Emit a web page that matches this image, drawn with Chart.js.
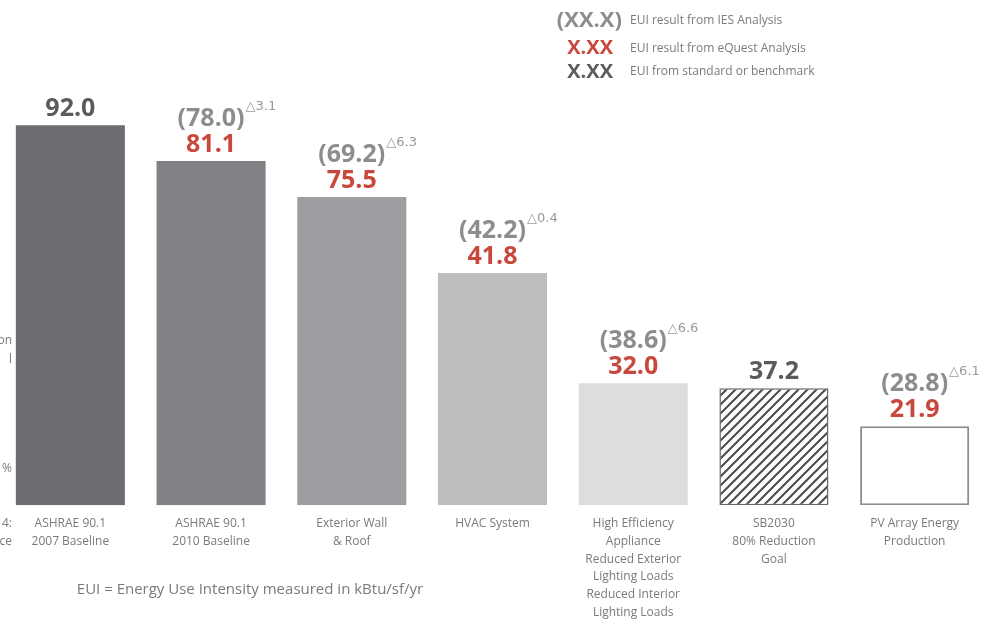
<!DOCTYPE html>
<html>
<head>
<meta charset="utf-8">
<script src="https://cdn.jsdelivr.net/npm/chart.js@4.4.1/dist/chart.umd.min.js"></script>
<style>
  html, body { margin: 0; padding: 0; background: #fff; }
  #wrap { width: 998px; height: 627px; position: relative; }
</style>
</head>
<body>
<div id="wrap"><canvas id="myChart"></canvas></div>
<script>
// categories (x axis, multi-line)
const categories = [
  ['ASHRAE 90.1', '2007 Baseline'],
  ['ASHRAE 90.1', '2010 Baseline'],
  ['Exterior Wall', '& Roof'],
  ['HVAC System'],
  ['High Efficiency', 'Appliance', 'Reduced Exterior', 'Lighting Loads', 'Reduced Interior', 'Lighting Loads'],
  ['SB2030', '80% Reduction', 'Goal'],
  ['PV Array Energy', 'Production']
];
// drawn bar heights (the picture is not to scale), in EUI units relative to the 92.0 bar
const barHeights = [92.0, 83.3, 74.6, 56.2, 29.5, 28.3, 19.1];
// value printed right above each bar
const mainValues = ['92.0', '81.1', '75.5', '41.8', '32.0', '37.2', '21.9'];
const mainSource = ['standard', 'eQuest', 'eQuest', 'eQuest', 'eQuest', 'standard', 'eQuest'];
// IES results (in brackets) and their delta to eQuest
const iesValues = [null, '78.0', '69.2', '42.2', '38.6', null, '28.8'];
const deltas = [null, '3.1', '6.3', '0.4', '6.6', null, '6.1'];

const barColors = ['#6d6c71', '#828186', '#9e9da2', '#bdbdbe', '#dcdddc', 'hatch', '#ffffff'];
const RED = '#c9483c', DARK = '#5b5b5f', GREY = '#8d8d8f', TXT = '#7a7a7a';

function hatch(){
  const c = document.createElement('canvas');
  c.width = 9; c.height = 9;
  const g = c.getContext('2d');
  g.fillStyle = '#fff';
  g.fillRect(0, 0, 9, 9);
  g.strokeStyle = '#4a4a4a';
  g.lineWidth = 2;
  g.beginPath();
  g.moveTo(-2, 11); g.lineTo(11, -2);
  g.moveTo(-2, 2); g.lineTo(2, -2);
  g.moveTo(7, 11); g.lineTo(11, 7);
  g.stroke();
  return g.createPattern(c, 'repeat');
}

const labelPlugin = {
  id: 'labels',
  afterDatasetsDraw(chart){
    const ctx = chart.ctx;
    const meta = chart.getDatasetMeta(0);
    ctx.save();
    ctx.textBaseline = 'alphabetic';
    meta.data.forEach((bar, i) => {
      const x = bar.x, top = bar.y;
      const base = top - 9;
      ctx.font = 'bold 25px "Open Sans"';
      ctx.textAlign = 'center';
      ctx.fillStyle = mainSource[i] === 'eQuest' ? RED : DARK;
      ctx.fillText(mainValues[i], x, base);
      if (iesValues[i]) {
        const t = '(' + iesValues[i] + ')';
        const pb = base - 26;
        ctx.font = 'bold 25px "Open Sans"';
        ctx.fillStyle = GREY;
        ctx.fillText(t, x, pb);
        const w = ctx.measureText(t).width;
        ctx.font = '13px "DejaVu Sans"';
        ctx.textAlign = 'left';
        ctx.fillStyle = '#9a9a9a';
        ctx.fillText('\u25B3' + deltas[i], x + w / 2 + 1, pb - 16);
      }
    });
    // legend
    ctx.textAlign = 'right';
    ctx.font = 'bold 22px "Open Sans"';
    ctx.fillStyle = GREY;
    ctx.fillText('(XX.X)', 622, 27);
    ctx.font = 'bold 20px "Open Sans"';
    ctx.fillStyle = RED;
    ctx.fillText('X.XX', 613, 54);
    ctx.fillStyle = DARK;
    ctx.fillText('X.XX', 613, 78);
    ctx.textAlign = 'left';
    ctx.font = '12px "Open Sans"';
    ctx.fillStyle = TXT;
    ctx.fillText('EUI result from IES Analysis', 630, 24);
    ctx.fillText('EUI result from eQuest Analysis', 630, 52);
    ctx.fillText('EUI from standard or benchmark', 630, 75);
    // footnote
    ctx.textAlign = 'center';
    ctx.font = '15px "Open Sans"';
    ctx.fillText('EUI = Energy Use Intensity measured in kBtu/sf/yr', 250, 594);
    // cut-off text from the neighbouring panel
    ctx.textAlign = 'right';
    ctx.font = '12px "Open Sans"';
    ctx.fillText('on', 12, 344);
    ctx.fillText('l', 12, 363);
    ctx.fillText('%', 12, 472);
    ctx.fillText('4:', 12, 527);
    ctx.fillText('ce', 12, 545);
    ctx.restore();
  }
};

const ctx = document.getElementById('myChart');
const pattern = hatch();

new Chart(ctx, {
  type: 'bar',
  data: {
    labels: categories,
    datasets: [{
      data: barHeights,
      backgroundColor: barColors.map(c => c === 'hatch' ? pattern : c),
      borderColor: ['#6d6c71', '#828186', '#9e9da2', '#bdbdbe', '#dcdddc', '#666', '#8c8c8c'],
      borderWidth: [0, 0, 0, 0, 0, 1.5, 2],
      borderSkipped: false,
      barPercentage: 0.775,
      categoryPercentage: 1
    }]
  },
  options: {
    responsive: true,
    maintainAspectRatio: false,
    animation: false,
    layout: { padding: { left: 0, right: 13, top: 0, bottom: 4 } },
    plugins: {
      legend: { display: false },
      tooltip: { enabled: false }
    },
    scales: {
      y: { display: false, min: 0, max: 122.3 },
      x: {
        grid: { display: false },
        border: { display: false },
        ticks: {
          color: TXT,
          padding: 2,
          maxRotation: 0,
          autoSkip: false,
          font: { family: 'Open Sans', size: 12, lineHeight: 1.47 }
        }
      }
    }
  },
  plugins: [labelPlugin]
});
</script>
</body>
</html>
